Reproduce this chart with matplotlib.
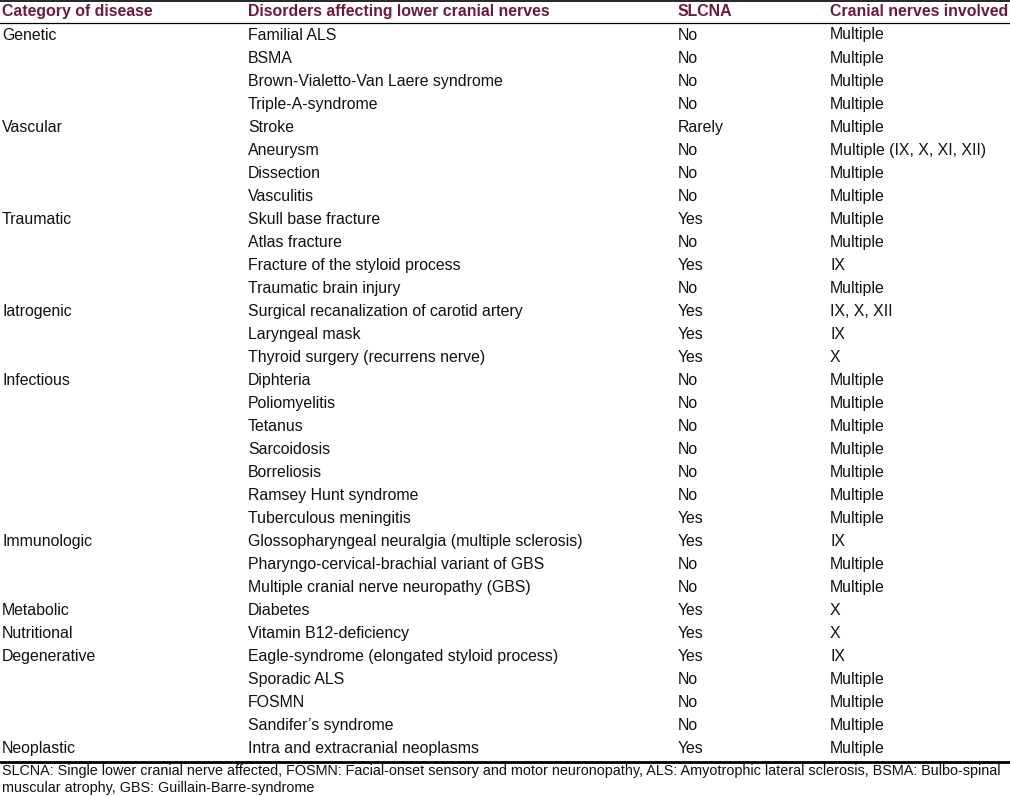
import matplotlib.pyplot as plt
from matplotlib import font_manager

# table content
headers = ["Category of disease", "Disorders affecting lower cranial nerves",
           "SLCNA", "Cranial nerves involved"]

categories = ["Genetic", "", "", "",
              "Vascular", "", "", "",
              "Traumatic", "", "", "",
              "Iatrogenic", "", "",
              "Infectious", "", "", "", "", "", "",
              "Immunologic", "", "",
              "Metabolic",
              "Nutritional",
              "Degenerative", "", "", "",
              "Neoplastic"]

disorders = ["Familial ALS", "BSMA", "Brown-Vialetto-Van Laere syndrome", "Triple-A-syndrome",
             "Stroke", "Aneurysm", "Dissection", "Vasculitis",
             "Skull base fracture", "Atlas fracture", "Fracture of the styloid process",
             "Traumatic brain injury",
             "Surgical recanalization of carotid artery", "Laryngeal mask",
             "Thyroid surgery (recurrens nerve)",
             "Diphteria", "Poliomyelitis", "Tetanus", "Sarcoidosis", "Borreliosis",
             "Ramsey Hunt syndrome", "Tuberculous meningitis",
             "Glossopharyngeal neuralgia (multiple sclerosis)",
             "Pharyngo-cervical-brachial variant of GBS",
             "Multiple cranial nerve neuropathy (GBS)",
             "Diabetes",
             "Vitamin B12-deficiency",
             "Eagle-syndrome (elongated styloid process)", "Sporadic ALS", "FOSMN",
             "Sandifer\u2019s syndrome",
             "Intra and extracranial neoplasms"]

slcna = ["No", "No", "No", "No",
         "Rarely", "No", "No", "No",
         "Yes", "No", "Yes", "No",
         "Yes", "Yes", "Yes",
         "No", "No", "No", "No", "No", "No", "Yes",
         "Yes", "No", "No",
         "Yes",
         "Yes",
         "Yes", "No", "No", "No",
         "Yes"]

nerves = ["Multiple", "Multiple", "Multiple", "Multiple",
          "Multiple", "Multiple (IX, X, XI, XII)", "Multiple", "Multiple",
          "Multiple", "Multiple", "IX", "Multiple",
          "IX, X, XII", "IX", "X",
          "Multiple", "Multiple", "Multiple", "Multiple", "Multiple", "Multiple", "Multiple",
          "IX", "Multiple", "Multiple",
          "X",
          "X",
          "IX", "Multiple", "Multiple", "Multiple",
          "Multiple"]

footnote = ["SLCNA: Single lower cranial nerve affected, FOSMN: Facial-onset sensory and motor "
            "neuronopathy, ALS: Amyotrophic lateral sclerosis, BSMA: Bulbo-spinal",
            "muscular atrophy, GBS: Guillain-Barre-syndrome"]

W, H = 1010, 796
col_x = [2, 248, 678, 830]
head_color = "#6a1b3c"
row_h = 23.03
first_y = 35

installed = {f.name for f in font_manager.fontManager.ttflist}
body_font = ["Liberation Sans", "DejaVu Sans"]
if "Liberation Sans Narrow" in installed:
    narrow_font, foot_size = ["Liberation Sans Narrow", "Liberation Sans"], 12.6
else:
    narrow_font, foot_size = ["Liberation Sans"], 10.4

fig = plt.figure(figsize=(W / 100, H / 100), dpi=100)
ax = fig.add_axes([0, 0, 1, 1])
ax.set_xlim(0, W)
ax.set_ylim(H, 0)
ax.axis("off")

# header
for x, h in zip(col_x, headers):
    ax.text(x, 11.5, h, fontsize=11.4, fontweight="bold", color=head_color,
            family=body_font, va="center", ha="left")

# rules
ax.axhline(0.8, color="black", lw=1.2)
ax.axhline(22.5, color="black", lw=0.9)
ax.axhline(761.5, color="black", lw=2.0)

# body rows
columns = [categories, disorders, slcna, nerves]
for i in range(len(disorders)):
    y = first_y + i * row_h
    for x, col in zip(col_x, columns):
        if col[i]:
            ax.text(x, y, col[i], fontsize=11.4, color="#111111",
                    family=body_font, va="center", ha="left")

# footnote
for j, line in enumerate(footnote):
    ax.text(2, 771 + j * 17, line, fontsize=foot_size, color="#111111",
            family=narrow_font, va="center", ha="left")

fig.savefig("out.png", dpi=100)
